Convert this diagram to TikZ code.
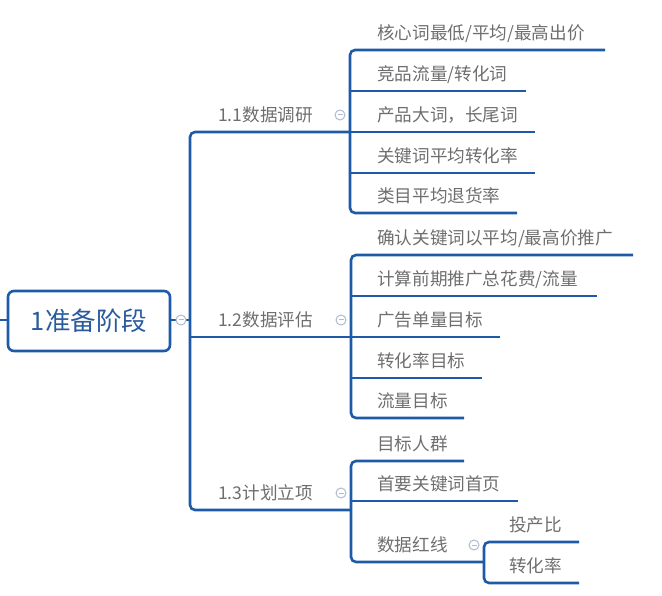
\documentclass[tikz,border=0pt]{standalone}
\usepackage{fontspec}
\setmainfont{Noto Sans CJK SC}
\definecolor{linec}{HTML}{1E5AA8}
\definecolor{txtc}{HTML}{6E6E6E}
\definecolor{rootc}{HTML}{2A5B9C}
\definecolor{circc}{HTML}{AEBBD0}
\tikzset{
  conn/.style={draw=linec, line width=2.6pt, rounded corners=5pt},
  leaf/.style={anchor=base west, inner sep=0pt, text=txtc, font=\fontsize{17.6}{20}\selectfont},
  rootbox/.style={draw=linec, line width=2.6pt, rounded corners=6pt, fill=white, text=rootc,
    minimum width=162pt, minimum height=60pt, font=\fontsize{25.5}{28}\selectfont},
  fold/.style={circle, draw=circc, line width=1pt, fill=white, minimum size=10pt, inner sep=0pt,
    path picture={\draw[circc, line width=1pt] ([xshift=-2.5pt]path picture bounding box.center) -- ([xshift=2.5pt]path picture bounding box.center);}}
}
\begin{document}
\begin{tikzpicture}[x=1pt, y=-1pt]
\useasboundingbox (0,0) rectangle (662,596);
% trunk
\draw[conn] (350,132) -- (190,132) -- (190,510) -- (351,510);
\draw[conn] (0,320) -- (190,320);
\draw[conn] (190,337) -- (351,337);
\node[rootbox] (root) at (89,321) {1准备阶段};
\node[fold] (f0) at (181,320) {};
% group 1.1
\draw[conn] (605,50) -- (350,50) -- (350,213) -- (517,213);
\draw[conn] (350,91) -- (526,91);
\draw[conn] (350,132) -- (535,132);
\draw[conn] (350,173) -- (535,173);
\node[leaf] (g1) at (218,121.5) {1.1数据调研};
\node[fold] (f1) at (340,115) {};
\node[leaf] (a1) at (377,39.5) {核心词最低/平均/最高出价};
\node[leaf] (a2) at (377,80.5) {竞品流量/转化词};
\node[leaf] (a3) at (377,121.5) {产品大词，长尾词};
\node[leaf] (a4) at (377,162.5) {关键词平均转化率};
\node[leaf] (a5) at (377,202.5) {类目平均退货率};
% group 1.2
\draw[conn] (633,255) -- (351,255) -- (351,418) -- (464,418);
\draw[conn] (351,296) -- (597,296);
\draw[conn] (351,337) -- (500,337);
\draw[conn] (351,378) -- (482,378);
\node[leaf] (g2) at (218,326.5) {1.2数据评估};
\node[fold] (f2) at (341,320) {};
\node[leaf] (b1) at (377,244.5) {确认关键词以平均/最高价推广};
\node[leaf] (b2) at (377,285.5) {计算前期推广总花费/流量};
\node[leaf] (b3) at (377,326.5) {广告单量目标};
\node[leaf] (b4) at (377,367.5) {转化率目标};
\node[leaf] (b5) at (377,407.5) {流量目标};
% group 1.3
\draw[conn] (464,461) -- (351,461) -- (351,562) -- (484,562);
\draw[conn] (351,501) -- (518,501);
\draw[conn] (579,542) -- (484,542) -- (484,583) -- (579,583);
\node[leaf] (g3) at (218,499.5) {1.3计划立项};
\node[fold] (f3) at (341,493) {};
\node[leaf] (c1) at (377,450.5) {目标人群};
\node[leaf] (c2) at (377,490.5) {首要关键词首页};
\node[leaf] (c3) at (377,551.5) {数据红线};
\node[fold] (f4) at (474,545) {};
\node[leaf] (d1) at (509,531.5) {投产比};
\node[leaf] (d2) at (509,572.5) {转化率};
\end{tikzpicture}
\end{document}
